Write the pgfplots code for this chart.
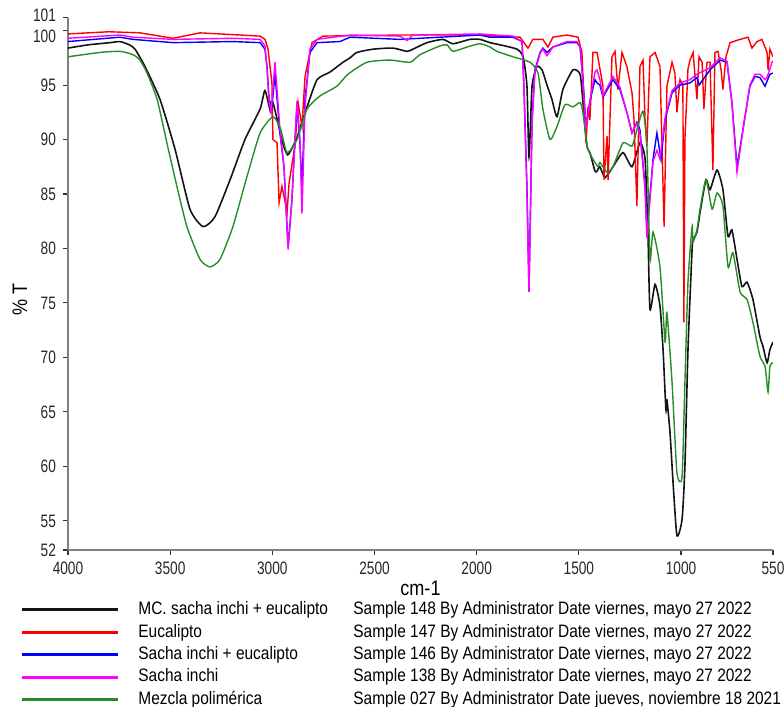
\documentclass[border=0pt]{standalone}
\usepackage{fontspec}
\setmainfont{Liberation Sans}[FakeStretch=0.86]
\newfontfamily\tickfont{Liberation Sans}[FakeStretch=0.76]
\usepackage{pgfplots}
\pgfplotsset{compat=1.18}

\definecolor{cBlack}{RGB}{20,20,20}
\definecolor{cRed}{RGB}{255,0,0}
\definecolor{cBlue}{RGB}{0,0,255}
\definecolor{cMag}{RGB}{255,0,255}
\definecolor{cGreen}{RGB}{40,140,40}

\begin{document}
\begin{tikzpicture}
\path[use as bounding box] (-34pt,-78.5pt) rectangle (358pt,275pt);
\begin{axis}[
  scale only axis, width=352.5pt, height=266.2pt,
  x dir=reverse, xmin=550, xmax=4000, ymin=52.3, ymax=101.2,
  axis lines*=left,
  axis line style={draw=gray, line width=1pt},
  tick align=outside, major tick length=2.5pt,
  tick style={black!80, line width=0.6pt},
  xtick={4000,3500,3000,2500,2000,1500,1000,550},
  xticklabels={4000,3500,3000,2500,2000,1500,1000,550},
  ytick={52.3,55,60,65,70,75,80,85,90,95,100,101.2},
  yticklabels={52,55,60,65,70,75,80,85,90,95,\raisebox{-2.5pt}{100},\raisebox{1.5pt}{101}},
  ticklabel style={font=\tickfont\fontsize{9}{9}\selectfont, text=black!85},
  yticklabel style={text height=6.4pt, text depth=0pt},
  xlabel={cm-1}, ylabel={\% T},
  xlabel style={font=\fontsize{10.5}{11}\selectfont, at={(axis description cs:0.5,0)}, anchor=center, yshift=-19pt},
  ylabel style={font=\fontsize{10.5}{11}\selectfont, at={([xshift=-24pt]axis description cs:0,0.47)}, anchor=center},
  clip=true,
  legend style={draw=none, fill=none, at={(0,0)}, anchor=north west,
    xshift=-24pt, yshift=-25.5pt, inner sep=0pt, row sep=2.6pt,
    font=\fontsize{9}{10}\selectfont,
    nodes={inner sep=0pt, text height=6.6pt, text depth=2pt},
    /tikz/every odd column/.append style={column sep=9.5pt}},
  legend cell align=left,
  legend image code/.code={\draw[#1, line width=1.5pt] (0pt,0pt) -- (48pt,0pt);},
]

% MC. sacha inchi + eucalipto
\addplot[cBlack, line width=0.8pt, smooth, tension=0.35] coordinates {
(4000,98.4) (3900,98.7) (3794,98.9) (3746,99.0) (3700,98.7) (3672,98.3) (3623,96.7)
(3550,93.7) (3476,89.1) (3403,83.6) (3339,82.0) (3281,82.9) (3207,86.3) (3134,90.0)
(3060,92.8) (3036,94.5) (3008,92.5) (2997,93.4) (2948,89.6) (2925,88.6) (2904,89.2)
(2879,90.2) (2830,93.0) (2781,95.5) (2718,96.2) (2654,97.1) (2620,97.5)
(2586,98.0) (2507,98.3) (2410,98.4) (2341,98.1) (2312,98.3) (2243,98.9) (2165,99.2)
(2116,98.8) (2033,99.2) (1984,99.2) (1935,98.9) (1886,98.7) (1803,98.3) (1773,97.6)
(1754,94.9) (1744,88.4) (1729,94.9) (1705,96.7) (1680,96.4) (1656,95.0) (1632,93.7)
(1607,92.1) (1578,94.6) (1529,96.4) (1494,96.0) (1480,93.4) (1460,89.4) (1446,88.8)
(1421,87.1) (1411,87.1) (1397,87.5) (1372,86.5) (1333,87.5) (1284,88.8) (1240,87.5)
(1201,89.7) (1176,88.2) (1162,81.5) (1152,74.4) (1127,76.7) (1103,74.7) (1088,70.7)
(1074,65.2) (1069,66.1) (1054,63.1) (1039,58.5) (1020,53.6) (995,55.1) (981,60.0)
(966,70.7) (946,79.9) (941,80.8) (922,81.5) (907,83.3) (878,86.3) (858,85.4)
(824,87.2) (795,85.4) (770,81.1) (751,81.7) (726,79.0) (702,76.5) (677,76.9)
(648,75.3) (614,71.9) (599,71.0) (579,69.5) (565,70.7) (550,71.4)
};
\addlegendentry{\makebox[107.5pt][l]{MC. sacha inchi + eucalipto}Sample 148 By Administrator Date viernes, mayo 27 2022}

% Eucalipto
\addplot[cRed, line width=0.7pt] coordinates {
(4000,99.7) (3800,99.9) (3648,99.8) (3486,99.3) (3354,99.8) (3060,99.5) (3036,99.2)
(3021,98.3) (3002,95.2) (2997,90.0) (2977,89.7) (2967,84.2) (2953,85.7) (2943,84.8)
(2928,83.3) (2918,86.0) (2889,89.5) (2874,93.4) (2855,91.2) (2840,95.8) (2806,98.9)
(2752,99.5) (2375,99.6) (1984,99.6) (1788,99.4) (1749,98.4) (1725,99.2) (1676,99.2)
(1651,98.5) (1627,99.4) (1558,99.6) (1504,99.4) (1485,98.0) (1475,93.4) (1465,89.7)
(1455,93.0) (1446,91.8) (1431,98.0) (1411,98.0) (1382,94.9) (1377,86.3) (1362,90.3)
(1357,86.3) (1338,97.6) (1323,98.1) (1309,94.6) (1289,98.0) (1265,96.7) (1240,94.3)
(1230,91.8) (1216,83.9) (1201,96.7) (1186,97.3) (1176,91.8) (1167,89.4) (1152,97.6)
(1127,98.0) (1103,96.7) (1083,82.0) (1069,94.9) (1044,97.1) (1030,96.1) (1020,92.5)
(1005,95.5) (991,95.0) (986,73.2) (981,90.0) (966,96.5) (956,97.3) (941,98.0)
(922,93.7) (912,97.6) (897,97.1) (888,92.8) (873,97.1) (858,97.1) (844,87.2)
(834,98.0) (819,98.1) (804,96.4) (795,94.6) (780,97.6) (760,98.9) (711,99.2)
(672,99.4) (653,98.4) (628,99.0) (604,99.2) (579,98.0) (574,96.4) (565,98.3) (550,97.6)
};
\addlegendentry{\makebox[107.5pt][l]{Eucalipto}Sample 147 By Administrator Date viernes, mayo 27 2022}

% Sacha inchi + eucalipto
\addplot[cBlue, line width=0.7pt] coordinates {
(4000,99.0) (3746,99.4) (3682,99.2) (3486,98.9) (3193,99.0) (3060,98.9) (3036,98.3)
(3026,96.7) (3016,93.7) (3002,93.0) (2987,96.0) (2963,90.6) (2943,87.5) (2923,80.1)
(2904,84.5) (2889,90.0) (2879,93.4) (2865,89.7) (2855,85.7) (2840,93.7) (2816,98.0)
(2781,98.9) (2669,99.0) (2620,99.4) (2375,99.2) (1984,99.6) (1935,99.4) (1822,99.4)
(1778,99.0) (1769,95.0) (1754,85.7) (1744,76.0) (1729,91.8) (1715,96.4) (1690,98.0)
(1676,98.4) (1656,98.0) (1627,98.5) (1558,98.9) (1509,98.9) (1494,98.5) (1480,95.5)
(1465,91.2) (1446,93.5) (1421,95.5) (1411,95.2) (1397,95.0) (1382,93.9) (1333,95.5)
(1299,94.6) (1265,92.5) (1240,90.6) (1216,91.6) (1201,90.9) (1176,85.7) (1167,81.5)
(1137,88.2) (1118,90.6) (1098,88.2) (1078,91.8) (1044,94.3) (1005,95.0) (956,95.2)
(922,95.7) (912,95.0) (858,96.4) (809,97.3) (775,97.1) (751,93.4) (726,87.5)
(697,90.9) (663,94.9) (638,95.8) (614,95.7) (589,94.9) (565,96.0) (550,96.1)
};
\addlegendentry{\makebox[107.5pt][l]{Sacha inchi + eucalipto}Sample 146 By Administrator Date viernes, mayo 27 2022}

% Sacha inchi
\addplot[cMag, line width=0.7pt] coordinates {
(4000,99.3) (3746,99.6) (3682,99.4) (3486,99.2) (3193,99.3) (3060,99.2) (3036,98.6)
(3026,96.5) (3016,93.5) (3006,92.5) (2987,97.1) (2963,91.0) (2943,87.5) (2923,79.9)
(2904,84.5) (2889,90.0) (2879,93.6) (2865,90.0) (2855,83.2) (2840,93.0) (2816,98.3)
(2781,99.2) (2620,99.6) (2375,99.5) (2341,99.1) (2312,99.6) (1984,99.7) (1822,99.5)
(1778,99.0) (1769,95.0) (1754,85.0) (1744,76.0) (1729,91.5) (1715,96.2) (1690,97.9)
(1676,98.3) (1656,97.7) (1627,98.5) (1558,99.0) (1509,99.0) (1494,98.5) (1480,95.3)
(1465,91.0) (1446,93.5) (1421,96.2) (1411,96.4) (1397,95.5) (1382,94.0) (1333,95.8)
(1299,94.8) (1265,92.5) (1240,90.6) (1216,91.5) (1201,90.5) (1176,85.5) (1167,81.0)
(1137,88.0) (1118,89.0) (1103,88.2) (1078,92.0) (1044,94.5) (1005,95.2) (956,95.5)
(922,96.0) (858,96.6) (809,97.5) (775,97.2) (751,93.4) (726,87.0) (697,90.9)
(663,95.0) (638,96.0) (614,96.0) (589,95.5) (579,95.7) (555,97.1) (550,97.2)
};
\addlegendentry{\makebox[107.5pt][l]{Sacha inchi}Sample 138 By Administrator Date viernes, mayo 27 2022}

% Mezcla polimerica
\addplot[cGreen, line width=0.7pt, smooth, tension=0.35] coordinates {
(4000,97.6) (3843,98.0) (3746,98.1) (3682,97.8) (3648,97.3) (3613,96.1) (3564,93.7)
(3516,89.7) (3467,85.7) (3418,82.0) (3354,79.0) (3305,78.3) (3256,79.0) (3193,82.0)
(3124,86.6) (3060,90.6) (2997,92.1) (2960,91.0) (2928,88.8) (2879,90.0) (2830,92.8)
(2767,94.0) (2684,94.9) (2630,96.0) (2537,97.1) (2424,97.3) (2326,97.1) (2277,97.8)
(2180,98.6) (2145,98.7) (2116,98.1) (2047,98.5) (1984,98.8) (1935,98.5) (1901,98.1)
(1822,97.6) (1739,97.1) (1700,96.1) (1676,92.8) (1641,90.0) (1607,91.2) (1568,93.2)
(1529,93.0) (1494,93.4) (1480,92.5) (1460,89.4) (1431,88.2) (1406,87.5) (1397,87.9)
(1362,87.0) (1333,87.5) (1284,89.7) (1240,89.4) (1216,90.9) (1186,92.6) (1167,89.4)
(1152,79.0) (1137,81.5) (1103,78.3) (1078,71.4) (1069,74.1) (1044,67.7) (1020,59.4)
(995,59.0) (981,67.7) (966,76.9) (946,82.0) (941,80.6) (922,81.7) (907,83.6)
(878,86.3) (848,83.6) (824,85.1) (795,83.9) (770,78.3) (746,79.6) (711,76.0)
(677,75.3) (648,73.2) (614,70.1) (589,69.2) (574,66.8) (565,69.2) (550,69.5)
};
\addlegendentry{\makebox[107.5pt][l]{Mezcla polimérica}Sample 027 By Administrator Date jueves, noviembre 18 2021}

\end{axis}
\end{tikzpicture}
\end{document}
